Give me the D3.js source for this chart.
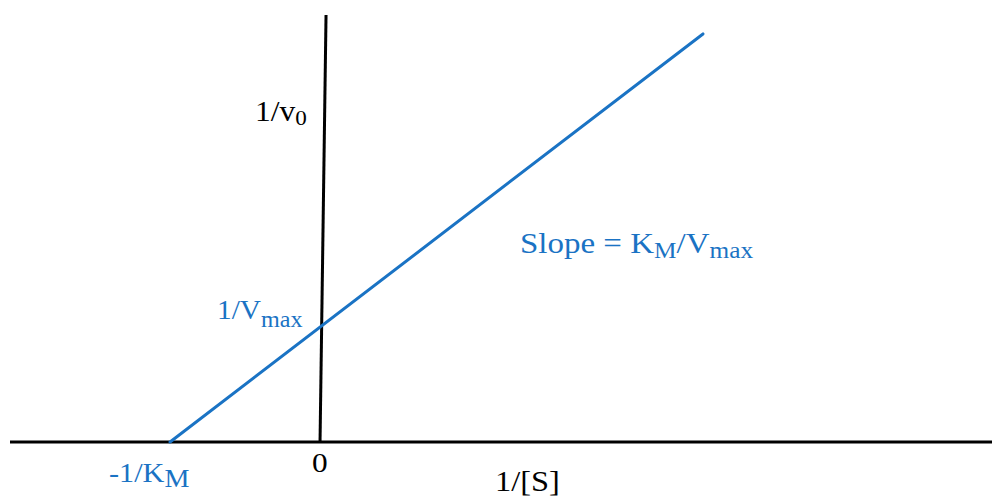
<!DOCTYPE html>
<html>
<head>
<meta charset="utf-8">
<script src="https://cdn.jsdelivr.net/npm/d3@7"></script>
<style>
  html, body { margin: 0; padding: 0; background: #fff; }
  svg { display: block; }
  text { font-family: "Liberation Serif", "Times New Roman", serif; }
</style>
</head>
<body>
<svg id="chart" width="992" height="498"></svg>
<script>
// Lineweaver–Burk plot: 1/v0 against 1/[S]
const xDomain = [-2.067, 4.48];          // 1/[S] range shown
const yDomain = [0, 3.72];               // 1/v0 range shown
const xAxisEnds = [-2.067, 4.48];        // horizontal axis (1/v0 = 0)
const yAxisEnds = [[0, 0], [0.04, 3.72]];// vertical axis, drawn slightly leaning
const fitX = [-1, 2.553];                // regression line, 1/[S]
const fitY = [0, 3.555];                 // regression line, 1/v0
const xIntercept = -1;                   // -1/KM
const yIntercept = 1;                    // 1/Vmax

const blue = "#1a73c4";

const svg = d3.select("#chart");
const x = d3.scaleLinear().domain(xDomain).range([10, 992]);
const y = d3.scaleLinear().domain(yDomain).range([442, 15]);

// horizontal axis
svg.append("line")
  .attr("x1", x(xAxisEnds[0])).attr("x2", x(xAxisEnds[1]))
  .attr("y1", y(0)).attr("y2", y(0))
  .attr("stroke", "#000").attr("stroke-width", 3);

// vertical axis
svg.append("line")
  .attr("x1", x(yAxisEnds[0][0])).attr("y1", y(yAxisEnds[0][1]))
  .attr("x2", x(yAxisEnds[1][0])).attr("y2", y(yAxisEnds[1][1]))
  .attr("stroke", "#000").attr("stroke-width", 3);

// fitted line
const pts = fitX.map((d, i) => [d, fitY[i]]);
svg.append("path")
  .datum(pts)
  .attr("d", d3.line().x(d => x(d[0])).y(d => y(d[1])))
  .attr("fill", "none")
  .attr("stroke", blue)
  .attr("stroke-width", 3)
  .attr("stroke-linecap", "round");

// labels with subscripts; the serif face is widened slightly
function label(px, py, parts, color, size, stretch) {
  const t = svg.append("text")
    .attr("transform", `translate(${px},${py}) scale(${stretch},1)`)
    .attr("fill", color)
    .attr("font-size", size);
  parts.forEach(p => {
    const s = t.append("tspan").text(p.t);
    if (p.sub) s.attr("font-size", p.sub);
    if (p.dy) s.attr("dy", p.dy);
  });
  return t;
}

// axis titles
label(255, 121, [{t: "1/v"}, {t: "0", sub: 22, dy: 4}], "#000", 30, 1.05);
label(495, 491, [{t: "1/[S]"}], "#000", 30, 1.08);
label(x(0) - 8, 472, [{t: "0"}], "#000", 28, 1.12);

// intercepts
label(217, y(yIntercept) - 8, [{t: "1/V"}, {t: "max", sub: 23, dy: 8}], blue, 28, 1.05);
label(x(xIntercept) - 61, 482, [{t: "-1/K"}, {t: "M", sub: 26, dy: 5}], blue, 28, 1.08);

// slope annotation
label(520, 253, [
  {t: "Slope = K"}, {t: "M", sub: 23, dy: 5},
  {t: "/V", dy: -5}, {t: "max", sub: 23, dy: 5}
], blue, 30, 1.1);
</script>
</body>
</html>
